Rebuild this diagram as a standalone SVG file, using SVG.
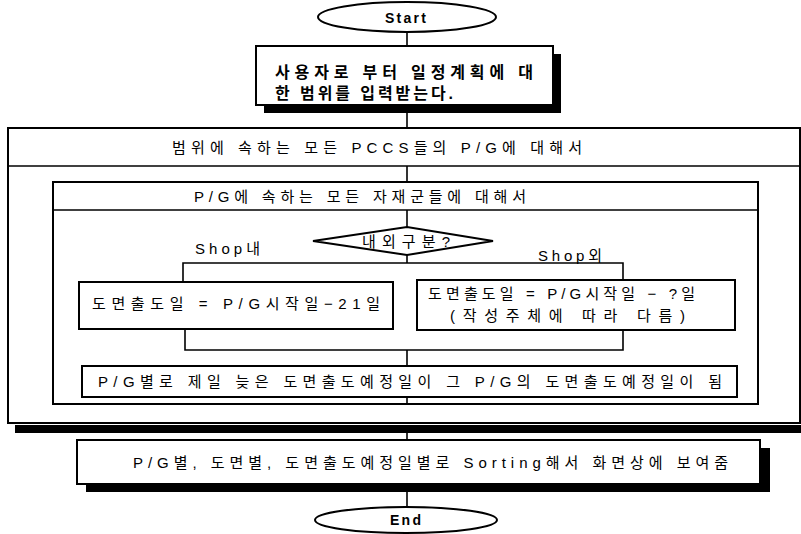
<svg xmlns="http://www.w3.org/2000/svg" width="801" height="534" viewBox="0 0 801 534">
<style>
.box{fill:#fff;stroke:#000;stroke-width:2}
.sh{fill:#000}
.ln{fill:none;stroke:#000;stroke-width:1.6}
.t{font-family:"Liberation Sans","Noto Sans CJK KR",sans-serif;font-size:15px;fill:#000;dominant-baseline:central}
.b{font-weight:bold}
.s14{font-size:14px}
.s16{font-size:16px}
</style>
<rect width="801" height="534" fill="#fff"/>
<g id="start">
<ellipse class="box" cx="407" cy="17" rx="89" ry="15"/>
<text class="t b s14" x="385" y="18" textLength="41">Start</text>
</g>
<g id="input">
<rect class="sh" x="264" y="54" width="297" height="59"/>
<rect class="box" x="256" y="46" width="297" height="59"/>
<text class="t b s16" x="275" y="72" textLength="258">사용자로 부터 일정계획에 대</text>
<text class="t b s16" x="275" y="93" textLength="178">한 범위를 입력받는다.</text>
</g>
<g id="loop-pccs">
<rect class="sh" x="15" y="425" width="786" height="8"/>
<rect class="box" x="8" y="128" width="792" height="295"/>
<line class="ln" x1="8" y1="166" x2="800" y2="166" stroke-width="2"/>
<text class="t" x="172" y="147" textLength="410">범위에 속하는 모든 PCCS들의 P/G에 대해서</text>
</g>
<g id="loop-pg">
<rect class="box" x="53" y="182" width="705" height="222"/>
<line class="ln" x1="53" y1="210" x2="758" y2="210" stroke-width="2"/>
<text class="t" x="194" y="196" textLength="332">P/G에 속하는 모든 자재군들에 대해서</text>
</g>
<g id="decision">
<polygon class="box" points="313,241 407,227 493,241 407,255"/>
<text class="t" x="362" y="241" textLength="88">내외구분?</text>
<text class="t" x="195" y="248" textLength="65">Shop내</text>
<text class="t" x="538" y="255" textLength="64">Shop외</text>
</g>
<g id="inside">
<rect class="box" x="79" y="282" width="314" height="47"/>
<text class="t" x="92" y="303" textLength="288">도면출도일 = P/G시작일−21일</text>
</g>
<g id="outside">
<rect class="box" x="417" y="280" width="318" height="50"/>
<text class="t" x="428" y="293" textLength="267">도면출도일 = P/G시작일 − ?일</text>
<text class="t" x="450" y="315" textLength="235">(작성주체에 따라 다름)</text>
</g>
<g id="latest">
<rect class="box" x="82" y="366" width="655" height="31"/>
<text class="t" x="98" y="381" textLength="624">P/G별로 제일 늦은 도면출도예정일이 그 P/G의 도면출도예정일이 됨</text>
</g>
<g id="sort">
<rect class="sh" x="86" y="448" width="684" height="44"/>
<rect class="box" x="77" y="440" width="683" height="44"/>
<text class="t" x="133" y="462" textLength="595">P/G별, 도면별, 도면출도예정일별로 Sorting해서 화면상에 보여줌</text>
</g>
<g id="end">
<ellipse class="box" cx="406" cy="520" rx="91" ry="13"/>
<text class="t b s14" x="390" y="520" textLength="31">End</text>
</g>
<g id="connectors">
<line class="ln" x1="407" y1="32" x2="407" y2="46"/>
<line class="ln" x1="407" y1="113" x2="407" y2="128"/>
<line class="ln" x1="407" y1="166" x2="407" y2="182"/>
<line class="ln" x1="407" y1="210" x2="407" y2="227"/>
<line class="ln" x1="407" y1="255" x2="407" y2="263"/>
<polyline class="ln" points="183,282 183,263 623,263 623,280"/>
<polyline class="ln" points="185,329 185,350 623,350 623,330"/>
<line class="ln" x1="407" y1="350" x2="407" y2="366"/>
<line class="ln" x1="407" y1="397" x2="407" y2="404"/>
<line class="ln" x1="407" y1="433" x2="407" y2="440"/>
<line class="ln" x1="407" y1="492" x2="407" y2="507"/>
</g>
</svg>
